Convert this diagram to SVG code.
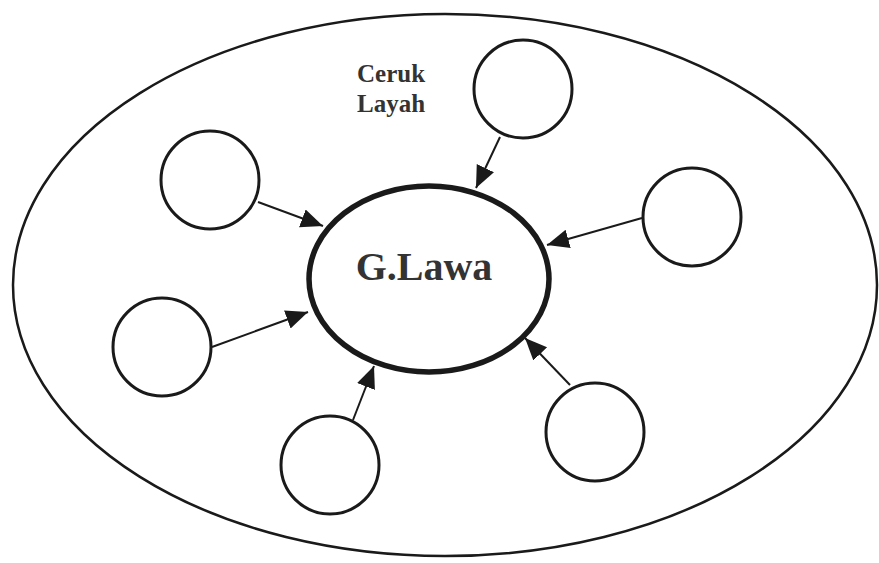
<svg xmlns="http://www.w3.org/2000/svg" width="879" height="563" viewBox="0 0 879 563">
<style>
.sat{fill:none;stroke:#1a1a1a;stroke-width:3}
.conn{stroke:#1a1a1a;stroke-width:2;fill:none}
.lbl{font-family:"Liberation Serif",serif;font-weight:bold;fill:#333}
</style>
<defs>
<marker id="ah" markerUnits="userSpaceOnUse" markerWidth="24" markerHeight="20" refX="22" refY="9.5" orient="auto">
<path d="M0,0 L22,9.5 L0,19 Z" fill="#1a1a1a"/>
</marker>
</defs>
<rect width="879" height="563" fill="#fff"/>
<g id="outer">
<ellipse cx="445" cy="285" rx="432" ry="271" fill="none" stroke="#1a1a1a" stroke-width="2.5"/>
<text class="lbl" x="357" y="82" font-size="25">Ceruk</text>
<text class="lbl" x="357" y="112" font-size="25">Layah</text>
</g>
<g id="connectors">
<line class="conn" x1="500" y1="137" x2="476" y2="188" marker-end="url(#ah)"/>
<line class="conn" x1="258" y1="202" x2="323" y2="226" marker-end="url(#ah)"/>
<line class="conn" x1="642" y1="218" x2="547" y2="245" marker-end="url(#ah)"/>
<line class="conn" x1="212" y1="347" x2="308" y2="312" marker-end="url(#ah)"/>
<line class="conn" x1="353" y1="420" x2="374" y2="366" marker-end="url(#ah)"/>
<line class="conn" x1="570" y1="385" x2="525" y2="338" marker-end="url(#ah)"/>
</g>
<g id="center">
<ellipse cx="429" cy="279" rx="120" ry="93" fill="none" stroke="#1a1a1a" stroke-width="5.5"/>
<text class="lbl" x="424" y="280" font-size="40" text-anchor="middle">G.Lawa</text>
</g>
<g id="n1"><circle class="sat" cx="523" cy="89" r="49"/></g>
<g id="n2"><circle class="sat" cx="210" cy="180" r="49"/></g>
<g id="n3"><circle class="sat" cx="692" cy="217" r="49"/></g>
<g id="n4"><circle class="sat" cx="162" cy="347" r="49"/></g>
<g id="n5"><circle class="sat" cx="330" cy="465" r="49"/></g>
<g id="n6"><circle class="sat" cx="595" cy="432" r="49"/></g>
</svg>
